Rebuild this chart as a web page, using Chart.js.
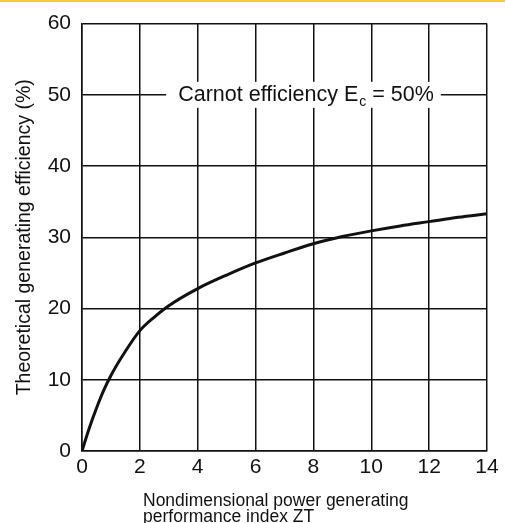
<!DOCTYPE html>
<html>
<head>
<meta charset="utf-8">
<script src="https://cdn.jsdelivr.net/npm/chart.js@4.4.1/dist/chart.umd.min.js"></script>
<style>
  html, body { margin: 0; padding: 0; background: #fff; }
  body { width: 505px; height: 523px; position: relative; overflow: hidden; }
  #topbar { position: absolute; left: 0; top: 0; width: 505px; height: 2px; background: #f8c93e; z-index: 2; }
  #wrap { position: absolute; left: 0; top: 0; width: 505px; height: 523px; }
</style>
</head>
<body>
<div id="topbar"></div>
<div id="wrap"><canvas id="eff"></canvas></div>
<script>
// ZT values and theoretical efficiency (%)
const zt = [0, 0.25, 0.5, 0.75, 1, 1.5, 2, 2.5, 3, 4, 5, 6, 7, 8, 9, 10, 11, 12, 13, 14];
const efficiency = [0, 3.2, 6, 8.5, 10.6, 14, 16.9, 18.8, 20.4, 22.8, 24.7, 26.4, 27.8, 29.1, 30.1, 30.9, 31.6, 32.2, 32.8, 33.3];
const xTicks = [0, 2, 4, 6, 8, 10, 12, 14];
const yTicks = [0, 10, 20, 30, 40, 50, 60];
const carnot = 50;
const carnotLabel = ["Carnot efficiency E", "c", " = 50%"];
const xTitle = ["Nondimensional power generating", "performance index ZT"];
const yTitle = "Theoretical generating efficiency (%)";

const FONT = "Arial, 'Liberation Sans', sans-serif";
const ink = "#111";

const carnotBox = {
  id: "carnotBox",
  afterDraw(chart) {
    const { ctx, scales: { y } } = chart;
    const py = y.getPixelForValue(carnot);
    ctx.save();
    ctx.textBaseline = "middle";
    ctx.font = "21.5px " + FONT;
    const w1 = ctx.measureText(carnotLabel[0]).width;
    const w3 = ctx.measureText(carnotLabel[2]).width;
    ctx.font = "14px " + FONT;
    const w2 = ctx.measureText(carnotLabel[1]).width;
    const total = w1 + w2 + w3 + 1;
    const cx = 306;
    const x0 = cx - total / 2;
    ctx.fillStyle = "#fff";
    ctx.fillRect(x0 - 12, py - 13, total + 19, 26);
    ctx.fillStyle = ink;
    ctx.font = "21.5px " + FONT;
    ctx.fillText(carnotLabel[0], x0, py);
    ctx.font = "14px " + FONT;
    ctx.fillText(carnotLabel[1], x0 + w1 + 1, py + 7);
    ctx.font = "21.5px " + FONT;
    ctx.fillText(carnotLabel[2], x0 + w1 + w2 + 1, py);

    // x axis title, two lines, left aligned
    ctx.font = "17.5px " + FONT;
    ctx.textBaseline = "alphabetic";
    ctx.textAlign = "left";
    ctx.fillText(xTitle[0], 143, 506);
    ctx.fillText(xTitle[1], 143, 522);
    ctx.restore();
  }
};

new Chart(document.getElementById("eff").getContext("2d"), {
  type: "line",
  data: {
    datasets: [{
      data: zt.map((v, i) => ({ x: v, y: efficiency[i] })),
      borderColor: ink,
      borderWidth: 3,
      pointRadius: 0,
      fill: false,
      cubicInterpolationMode: "monotone"
    }]
  },
  options: {
    responsive: true,
    maintainAspectRatio: false,
    animation: false,
    layout: { padding: { left: 0, top: 22, right: 18, bottom: 0 } },
    plugins: { legend: { display: false }, tooltip: { enabled: false } },
    scales: {
      x: {
        type: "linear",
        min: 0, max: 14,
        afterBuildTicks: s => { s.ticks = xTicks.map(v => ({ value: v })); },
        afterFit: s => { s.height = 72; },
        grid: { color: ink, lineWidth: 1.5, drawTicks: false },
        border: { color: ink, width: 1.5 },
        ticks: { color: ink, font: { family: FONT, size: 21 }, padding: 4, maxRotation: 0 }
      },
      y: {
        min: 0, max: 60,
        afterBuildTicks: s => { s.ticks = yTicks.map(v => ({ value: v })); },
        afterFit: s => { s.width = 82; },
        grid: { color: ink, lineWidth: 1.5, drawTicks: false },
        border: { color: ink, width: 1.5 },
        ticks: { color: ink, font: { family: FONT, size: 21 }, padding: 11 },
        title: { display: true, text: yTitle, color: ink, font: { family: FONT, size: 19.5 }, padding: { top: 13, bottom: 0 } }
      }
    }
  },
  plugins: [carnotBox]
});
</script>
</body>
</html>
